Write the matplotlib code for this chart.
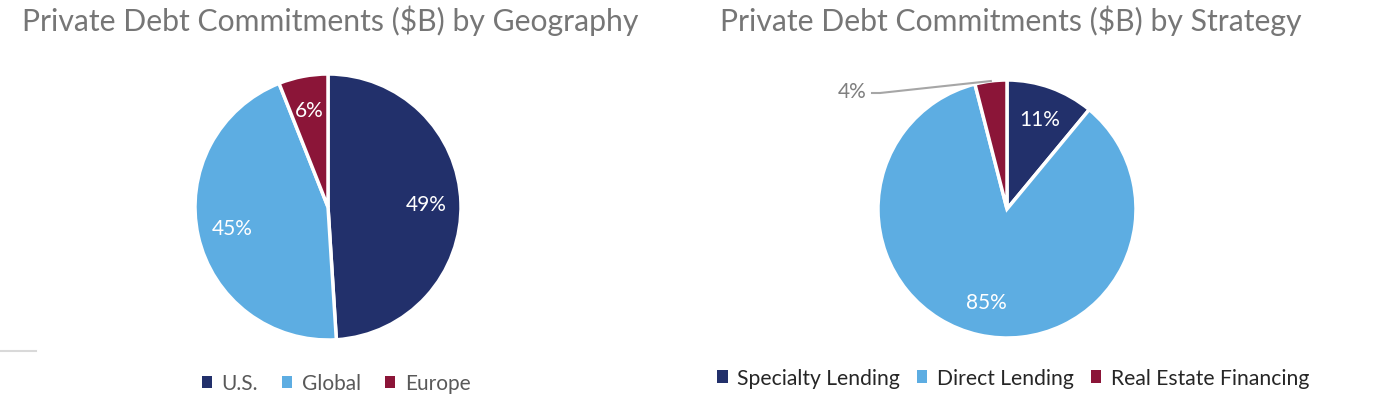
import numpy as np
import matplotlib.pyplot as plt
from matplotlib.patches import Patch

# data
geo_labels = ['U.S.', 'Global', 'Europe']
geo_values = [49, 45, 6]
strat_labels = ['Specialty Lending', 'Direct Lending', 'Real Estate Financing']
strat_values = [11, 85, 4]

colors = ['#22306b', '#5dade2', '#8b1538']
title_color = '#767676'
W, H = 1388, 410

plt.rcParams['font.family'] = ['Lato', 'DejaVu Sans']

fig = plt.figure(figsize=(W / 100, H / 100), dpi=100)
ax = fig.add_axes([0, 0, 1, 1])


def pie_at(values, cx, cy, r, inside):
    wedges, _, autotexts = ax.pie(
        values, colors=colors, startangle=90, counterclock=False,
        center=(cx, H - cy), radius=r, pctdistance=0.74,
        autopct=lambda p: '%d%%' % round(p) if round(p) >= inside else '',
        wedgeprops=dict(edgecolor='white', linewidth=2.5),
        textprops=dict(color='white', fontsize=15))
    return wedges


pie_at(geo_values, 328, 208, 133, 5)
w2 = pie_at(strat_values, 1007, 210, 129, 5)

# leader line for the small slice
wd = w2[2]
mid = np.deg2rad((wd.theta1 + wd.theta2) / 2)
ax_x = 1007 + 129 * np.cos(mid)
ax_y = H - 210 + 129 * np.sin(mid)
ax.plot([ax_x, 880, 872], [ax_y, H - 94, H - 94], color='#a6a6a6', lw=1.5)
ax.text(867, H - 92, '%d%%' % strat_values[2], color='#7f7f7f', fontsize=15,
        ha='right', va='center')

# titles
ax.text(22, H - 21, 'Private Debt Commitments ($B) by Geography', color=title_color,
        fontsize=21.7, ha='left', va='center')
ax.text(720, H - 21, 'Private Debt Commitments ($B) by Strategy', color=title_color,
        fontsize=21.7, ha='left', va='center')

# small gray rule at bottom left
ax.plot([0, 36], [H - 352, H - 352], color='#d9d9d9', lw=1.5)

# legends
h1 = [Patch(facecolor=c, label=l) for c, l in zip(colors, geo_labels)]
leg1 = ax.legend(handles=h1, loc='center', bbox_to_anchor=(336, H - 384),
                 bbox_transform=ax.transData, ncol=3, frameon=False, fontsize=15,
                 handlelength=0.5, handleheight=0.5, handletextpad=0.45,
                 columnspacing=1.15, labelcolor='#595959')
ax.add_artist(leg1)
h2 = [Patch(facecolor=c, label=l) for c, l in zip(colors, strat_labels)]
ax.legend(handles=h2, loc='center', bbox_to_anchor=(1013, H - 379),
          bbox_transform=ax.transData, ncol=3, frameon=False, fontsize=15.2,
          handlelength=0.5, handleheight=0.5, handletextpad=0.45,
          columnspacing=0.8, labelcolor='#262626')

ax.set_xlim(0, W)
ax.set_ylim(0, H)
ax.set_aspect('auto')
ax.axis('off')

fig.savefig('out.png', dpi=100)
